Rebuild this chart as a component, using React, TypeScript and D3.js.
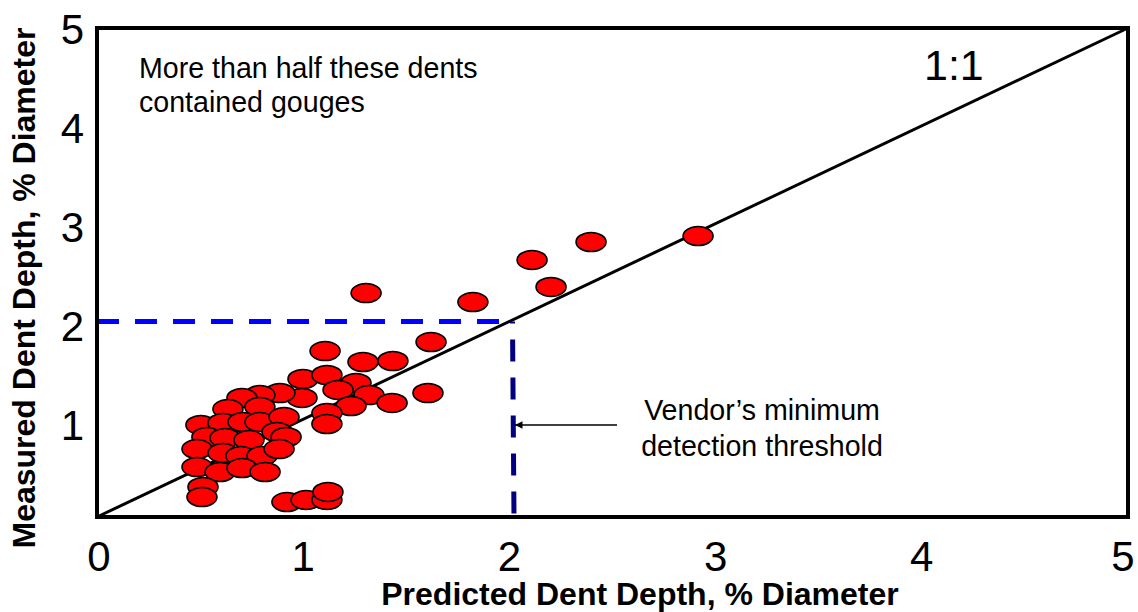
import React from "react";
import * as d3 from "d3";

const xTicks = [0, 1, 2, 3, 4, 5];
const yTicks = [1, 2, 3, 4, 5];
const predicted = [
  1.106, 1.29, 1.435, 1.62, 1.605, 1.305, 1.823, 2.11, 2.202, 2.396, 2.915,
  0.999, 1.115, 1.256, 1.169, 1.319, 1.431, 0.994, 0.887, 0.79, 0.703, 1.232,
  1.115, 1.115, 0.635, 0.79, 0.504, 0.611, 0.708, 0.79, 0.907, 0.533, 0.621,
  0.737, 0.873, 0.917, 0.485, 0.611, 0.698, 0.8, 0.883, 0.485, 0.597, 0.703,
  0.815, 0.514, 0.509, 0.921, 1.014, 1.115, 1.12,
];
const measured = [
  1.697, 1.585, 1.595, 1.789, 1.268, 2.29, 2.198, 2.628, 2.352, 2.812, 2.873,
  1.411, 1.452, 1.37, 1.299, 1.247, 1.166, 1.217, 1.268, 1.247, 1.217, 1.135,
  1.063, 0.951, 1.104, 1.125, 0.941, 0.961, 0.971, 0.971, 1.022, 0.818, 0.808,
  0.787, 0.869, 0.818, 0.695, 0.654, 0.624, 0.624, 0.695, 0.511, 0.46, 0.501,
  0.46, 0.307, 0.204, 0.153, 0.174, 0.174, 0.256,
];
const threshold = 2.015;
const thresholdY = 2;

export default function App() {
  const W = 1138, H = 612;
  const x = d3.scaleLinear().domain([0, 5]).range([97, 1128]);
  const y = d3.scaleLinear().domain([0, 5]).range([517, 28]);
  const font = "'Liberation Sans', Arial, sans-serif";
  return (
    <svg width={W} height={H} style={{ position: "absolute", left: 0, top: 0 }}
      fontFamily={font}>
      <defs>
        <marker id="arr" viewBox="0 0 10 10" refX="10" refY="5" markerWidth="5" markerHeight="5" orient="auto">
          <path d="M0,0 L10,5 L0,10 z" fill="#000" />
        </marker>
      </defs>
      <rect x={0} y={0} width={W} height={H} fill="#fff" />
      {/* 1:1 line */}
      <line x1={x(0)} y1={y(0)} x2={x(5)} y2={y(5)} stroke="#000" strokeWidth={3} />
      {/* threshold dashed lines */}
      <line x1={x(0)} y1={y(thresholdY)} x2={x(threshold)} y2={y(thresholdY)}
        stroke="#0000ff" strokeWidth={5} strokeDasharray="22 16" />
      <line x1={x(threshold)} y1={y(thresholdY)} x2={x(threshold) + 1.5} y2={y(0)}
        stroke="#000080" strokeWidth={5} strokeDasharray="22 16" strokeDashoffset={20} />
      {/* points */}
      {predicted.map((p, i) => (
        <ellipse key={i} cx={x(p)} cy={y(measured[i])} rx={15} ry={9.5}
          fill="#ff0000" stroke="#000" strokeWidth={1.6} />
      ))}
      {/* frame */}
      <rect x={x(0)} y={y(5)} width={x(5) - x(0)} height={y(0) - y(5)}
        fill="none" stroke="#000" strokeWidth={4} />
      {/* ticks labels */}
      {xTicks.map((t) => (
        <text key={t} x={x(t) + (t === 5 ? -5 : t === 0 ? 2 : 0)} y={571} fontSize={42} textAnchor="middle">{t}</text>
      ))}
      {yTicks.map((t) => (
        <text key={t} x={84} y={y(t) + 16 + (5 - t) * 1.2} fontSize={42} textAnchor="end">{t}</text>
      ))}
      {/* axis titles */}
      <text x={640} y={605} fontSize={32} fontWeight="bold" textAnchor="middle">
        Predicted Dent Depth, % Diameter
      </text>
      <text transform="translate(35,288) rotate(-90)" fontSize={32} fontWeight="bold" textAnchor="middle">
        Measured Dent Depth, % Diameter
      </text>
      {/* annotations */}
      <text x={139} y={78} fontSize={28.6}>More than half these dents</text>
      <text x={139} y={112} fontSize={28.6}>contained gouges</text>
      <text x={924} y={80} fontSize={43}>1:1</text>
      <text x={762} y={420} fontSize={28.6} textAnchor="middle">Vendor’s minimum</text>
      <text x={762} y={456} fontSize={28.6} textAnchor="middle">detection threshold</text>
      <line x1={617} y1={425} x2={515} y2={425} stroke="#000" strokeWidth={1.5} markerEnd="url(#arr)" />
    </svg>
  );
}
